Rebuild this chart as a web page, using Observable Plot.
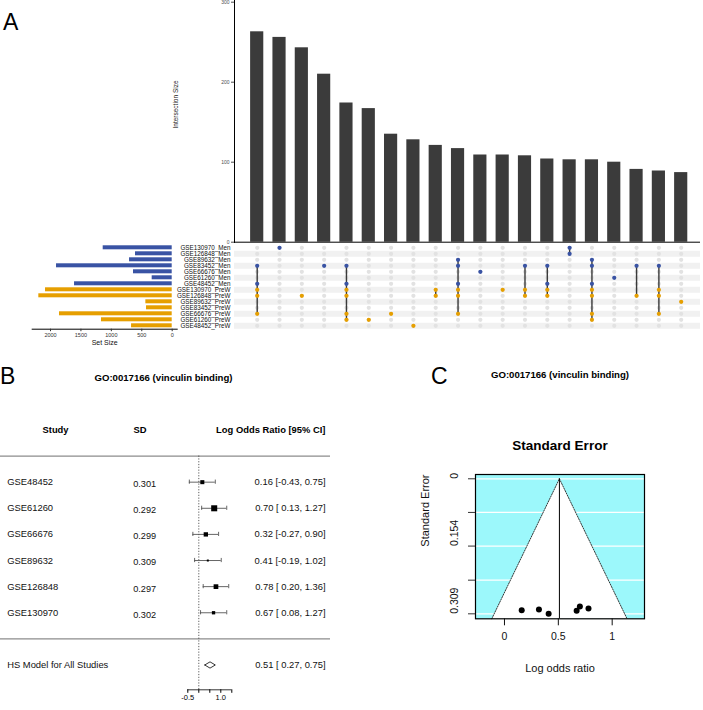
<!DOCTYPE html>
<html>
<head>
<meta charset="utf-8">
<script src="https://cdn.jsdelivr.net/npm/d3@7"></script>
<script src="https://cdn.jsdelivr.net/npm/@observablehq/plot@0.6"></script>
<style>
  body { margin: 0; background: #fff; }
  #root { position: relative; width: 703px; height: 710px; overflow: hidden; background: #fff;
          font-family: "Liberation Sans", Arial, Helvetica, sans-serif; }
  .pane { position: absolute; }
  .pane svg { display: block; }
  .tag { position: absolute; font-size: 23px; line-height: 23px; color: #000;
         font-family: "Liberation Sans", Arial, Helvetica, sans-serif; }
</style>
</head>
<body>
<div id="root">
  <div class="tag" style="left:3px;top:11px">A</div>
  <div class="tag" style="left:0px;top:365px">B</div>
  <div class="tag" style="left:431px;top:365px">C</div>
</div>
<script>
// ---------------- DATA ----------------
// Panel A: UpSet plot
const setNames = ["GSE130970_Men","GSE126848_Men","GSE89632_Men","GSE83452_Men","GSE66676_Men","GSE61260_Men","GSE48452_Men",
                  "GSE130970_PreW","GSE126848_PreW","GSE89632_PreW","GSE83452_PreW","GSE66676_PreW","GSE61260_PreW","GSE48452_PreW"];
const setGroups = ["Men","Men","Men","Men","Men","Men","Men","PreW","PreW","PreW","PreW","PreW","PreW","PreW"];
const setSizes = [1134, 603, 701, 1901, 636, 329, 1605, 2082, 2192, 433, 422, 1852, 1162, 668];
const setSizeTicks = [0, 500, 1000, 1500, 2000];

const intersectionSizes = [263, 256, 243, 210, 174, 167, 135, 128, 121, 117, 109, 109, 108, 104, 103, 103, 100, 91, 89, 87];
// members of each intersection, as indices into setNames
const intersectionMembers = [
  [3,6,7,8,11], [0], [8], [3], [3,6,7,8,11,12], [12], [11], [13], [7,8], [2,3,6,7,8,11],
  [4], [7], [3,7,8], [3,6,7,8], [0,1], [2,3,6,7,8,11,12], [5], [3,8], [3,7,8,11], [9]
];
const intersectionTicks = [0, 100, 200, 300];

// Panel B: forest plot
const goTitle = "GO:0017166 (vinculin binding)";
const studies = ["GSE48452","GSE61260","GSE66676","GSE89632","GSE126848","GSE130970"];
const studySD = [0.301, 0.292, 0.299, 0.309, 0.297, 0.302];
const studyLogOR = [0.16, 0.70, 0.32, 0.41, 0.78, 0.67];
const studyCILow = [-0.43, 0.13, -0.27, -0.19, 0.20, 0.08];
const studyCIHigh = [0.75, 1.27, 0.90, 1.02, 1.36, 1.27];
const studyWeight = [0.67, 1.0, 0.72, 0.33, 0.78, 0.55];
const summaryLabel = "HS Model for All Studies";
const summaryEst = 0.51, summaryLow = 0.27, summaryHigh = 0.75;
const forestTicks = [-0.5, 0, 0.5, 1.0, 1.5];
const forestTickLabels = [-0.5, 1.0];

// Panel C: funnel plot
const funnelSETicks = [0, 0.077, 0.154, 0.232, 0.309];
const funnelSELabels = [0, 0.154, 0.309];
const funnelXTicks = [0, 0.5, 1];

// ---------------- HELPERS ----------------
const FONT = '"Liberation Sans", Arial, Helvetica, sans-serif';
const BLUE = "#3953a4", ORANGE = "#e69f00";
const root = document.getElementById("root");
function place(svg, left, top) {
  const d = document.createElement("div");
  d.className = "pane";
  d.style.left = left + "px";
  d.style.top = top + "px";
  d.appendChild(svg);
  root.appendChild(d);
}
const baseStyle = {fontFamily: FONT, background: "transparent", overflow: "visible"};

// ---------------- PANEL A: intersection bars ----------------
const colIdx = d3.range(intersectionSizes.length);
const colCenters = [256.7, 680.7];
const colStep = (colCenters[1] - colCenters[0]) / (colIdx.length - 1);
const barPad = 0.41;
const half = colStep * (barPad + (1 - barPad) / 2);
const bandRange = [colCenters[0] - half, colCenters[1] + half];

place(Plot.plot({
  width: 703, height: 246,
  marginLeft: 234, marginRight: 3, marginTop: 0, marginBottom: 4,
  style: baseStyle,
  x: {type: "band", domain: colIdx, range: bandRange, padding: barPad, round: false, axis: null},
  y: {domain: [0, 300], range: [241.7, 1.7]},
  marks: [
    Plot.barY(colIdx, {x: i => i, y: i => intersectionSizes[i], fill: "#3b3b3b"}),
    Plot.ruleY([0], {stroke: "#000", strokeWidth: 1}),
    Plot.frame({anchor: "left", stroke: "#000"}),
    Plot.axisY(intersectionTicks, {tickSize: 3, tickPadding: 2, fontSize: 5, color: "#4d4d4d", label: null}),
    Plot.text(["Intersection Size"], {frameAnchor: "left", dx: -59, dy: 7, rotate: -90, fontSize: 6.5, fill: "#222"})
  ]
}), 0, 0);

// ---------------- PANEL A: matrix ----------------
const matrixCells = [];
colIdx.forEach(c => setNames.forEach((s, r) => matrixCells.push({c, s})));
const memberCells = [];
intersectionMembers.forEach((m, c) => m.forEach(r => memberCells.push({c, s: setNames[r], g: setGroups[r]})));
const multi = colIdx.filter(c => intersectionMembers[c].length > 1);

place(Plot.plot({
  width: 703, height: 92,
  marginLeft: 234, marginRight: 3, marginTop: 0, marginBottom: 0,
  style: baseStyle,
  x: {type: "point", domain: colIdx, range: colCenters, padding: 0, round: false, axis: null},
  y: {type: "point", domain: setNames, range: [7.3, 85.3], padding: 0, round: false},
  color: {domain: ["Men", "PreW"], range: [BLUE, ORANGE]},
  marks: [
    Plot.ruleY(setNames.filter((d, i) => i % 2 === 1), {stroke: "#f1f1f1", strokeWidth: 6}),
    Plot.dot(matrixCells, {x: "c", y: "s", r: 2.1, fill: "#e2e2e2"}),
    Plot.ruleX(multi, {x: c => c,
      y1: c => setNames[d3.min(intersectionMembers[c])],
      y2: c => setNames[d3.max(intersectionMembers[c])],
      stroke: "#3a3a3a", strokeWidth: 1.4}),
    Plot.dot(memberCells, {x: "c", y: "s", r: 2.1, fill: "g"}),
    Plot.axisY({tickSize: 0, tickPadding: 4, fontSize: 6.3, color: "#111", label: null})
  ]
}), 0, 240);

// ---------------- PANEL A: set sizes ----------------
place(Plot.plot({
  width: 180, height: 110,
  marginLeft: 31.7, marginRight: 3.3, marginTop: 0, marginBottom: 21.3,
  style: baseStyle,
  x: {domain: [2000, 0], range: [50, 171.7]},
  y: {type: "band", domain: setNames, range: [4.3, 88.3], paddingInner: 0.33, paddingOuter: 0.165, round: false, axis: null},
  color: {domain: ["Men", "PreW"], range: [BLUE, ORANGE]},
  marks: [
    Plot.barX(setNames, {y: d => d, x: (d, i) => setSizes[i], fill: (d, i) => setGroups[i]}),
    Plot.frame({anchor: "bottom", stroke: "#000"}),
    Plot.axisX(setSizeTicks, {tickSize: 2.5, tickPadding: 1.5, fontSize: 5.5, color: "#333", label: null,
      tickFormat: d3.format("d")}),
    Plot.text(["Set Size"], {frameAnchor: "bottom", lineAnchor: "middle", dy: 13.6, fontSize: 7, fill: "#111"})
  ]
}), 0, 240);

// ---------------- PANEL B: forest plot ----------------
const sIdx = d3.range(studies.length);
const rowOf = i => i + 1;
const headerRow = -1, titleRow = -3, sepRows = [0, studies.length + 1], summaryRow = studies.length + 2;
const forestAxisRow = summaryRow + 0.95;
const fmtCI = (e, l, h) => `${e.toFixed(2)} [${l < 0 ? "" : " "}${l.toFixed(2)}, ${h.toFixed(2)}]`;
const capH = 0.08, diaH = 0.12;
const diamond = [
  {x: summaryLow, y: summaryRow}, {x: summaryEst, y: summaryRow - diaH},
  {x: summaryHigh, y: summaryRow}, {x: summaryEst, y: summaryRow + diaH}, {x: summaryLow, y: summaryRow}
];

place(Plot.plot({
  width: 340, height: 350,
  marginLeft: 0, marginRight: 10, marginTop: 17.2, marginBottom: 20.7,
  style: baseStyle,
  x: {domain: [forestTicks[0], forestTicks[forestTicks.length - 1]], range: [187.3, 231.3]},
  y: {domain: [titleRow, forestAxisRow], range: [17.2, 329.3], axis: null},
  r: {type: "linear", domain: [0, 1], range: [0, 3.4]},
  marks: [
    Plot.text([goTitle], {y: titleRow, dx: -2, fontSize: 9.6, fontWeight: "bold", fill: "#000"}),
    Plot.text(["Study"], {y: headerRow, frameAnchor: "left", dx: 42, fontSize: 9.4, fontWeight: "bold"}),
    Plot.text(["SD"], {y: headerRow, frameAnchor: "left", dx: 133, fontSize: 9.4, fontWeight: "bold"}),
    Plot.text(["Log Odds Ratio [95% CI]"], {y: headerRow, frameAnchor: "right", dx: -5, textAnchor: "end", fontSize: 9.4, fontWeight: "bold"}),
    Plot.ruleY(sepRows, {stroke: "#8c8c8c", strokeWidth: 1.3}),
    Plot.ruleX([0], {y1: sepRows[0], y2: forestAxisRow, stroke: "#333", strokeWidth: 0.8, strokeDasharray: "1.2,1.6"}),
    Plot.text(studies, {y: (d, i) => rowOf(i), frameAnchor: "left", dx: 6.7, textAnchor: "start", fontSize: 9.4, fill: "#111"}),
    Plot.text(studySD, {y: (d, i) => rowOf(i), text: d => d.toFixed(3), frameAnchor: "left", dx: 132.7, dy: 2, fontSize: 9.2, fill: "#111"}),
    Plot.text(sIdx, {y: i => rowOf(i), text: i => fmtCI(studyLogOR[i], studyCILow[i], studyCIHigh[i]),
      frameAnchor: "right", dx: -5, textAnchor: "end", fontSize: 9.4, fill: "#111"}),
    Plot.ruleY(sIdx, {y: i => rowOf(i), x1: i => studyCILow[i], x2: i => studyCIHigh[i], stroke: "#555", strokeWidth: 0.9}),
    Plot.ruleX(sIdx, {x: i => studyCILow[i], y1: i => rowOf(i) - capH, y2: i => rowOf(i) + capH, stroke: "#555", strokeWidth: 0.9}),
    Plot.ruleX(sIdx, {x: i => studyCIHigh[i], y1: i => rowOf(i) - capH, y2: i => rowOf(i) + capH, stroke: "#555", strokeWidth: 0.9}),
    Plot.dot(sIdx, {x: i => studyLogOR[i], y: i => rowOf(i), r: i => studyWeight[i], symbol: "square", fill: "#000", stroke: null}),
    Plot.text([summaryLabel], {y: summaryRow, frameAnchor: "left", dx: 6.7, textAnchor: "start", fontSize: 9.4, fill: "#111"}),
    Plot.text([fmtCI(summaryEst, summaryLow, summaryHigh)], {y: summaryRow, frameAnchor: "right", dx: -5, textAnchor: "end", fontSize: 9.4, fill: "#111"}),
    Plot.line(diamond, {x: "x", y: "y", fill: "#fff", stroke: "#000", strokeWidth: 0.8}),
    Plot.ruleY([forestAxisRow], {x1: forestTicks[0], x2: forestTicks[forestTicks.length - 1], stroke: "#000", strokeWidth: 0.8}),
    Plot.axisX(forestTicks, {tickSize: 3.5, tickPadding: 1.5, fontSize: 7.5, color: "#000", label: null,
      tickFormat: d => forestTickLabels.includes(d) ? d.toFixed(1) : ""})
  ]
}), 0, 360);

// ---------------- PANEL C: funnel plot ----------------
const seDomain = [-0.0098, 0.3204];
const seBottom = seDomain[1];
const triangle = [
  {x: summaryEst - 1.96 * seBottom, y: seBottom},
  {x: summaryEst, y: 0},
  {x: summaryEst + 1.96 * seBottom, y: seBottom}
];
const leftEdge = triangle.slice(0, 2), rightEdge = triangle.slice(1);

place(Plot.plot({
  width: 313, height: 340,
  marginLeft: 85, marginRight: 59, marginTop: 114, marginBottom: 81.7,
  style: baseStyle,
  x: {domain: [-0.269, 1.30]},
  y: {domain: seDomain, reverse: true},
  marks: [
    Plot.frame({fill: "#9cf8fb", stroke: null}),
    Plot.ruleY(funnelSETicks, {stroke: "#fff", strokeWidth: 1.2}),
    Plot.line(triangle, {x: "x", y: "y", fill: "#fff", stroke: null}),
    Plot.line(leftEdge, {x: "x", y: "y", stroke: "#222", strokeWidth: 0.9, strokeDasharray: "1.3,1.3"}),
    Plot.line(rightEdge, {x: "x", y: "y", stroke: "#222", strokeWidth: 0.9, strokeDasharray: "1.3,1.3"}),
    Plot.ruleX([summaryEst], {y1: 0, y2: seBottom, stroke: "#000", strokeWidth: 1}),
    Plot.dot(sIdx, {x: i => studyLogOR[i], y: i => studySD[i], r: 3, fill: "#000"}),
    Plot.frame({stroke: "#000", strokeWidth: 1.2}),
    Plot.axisY(funnelSETicks, {tickSize: 7, tickFormat: () => "", color: "#333", label: null}),
    Plot.text(funnelSELabels, {y: d => d, text: d => String(d), frameAnchor: "left", dx: -21, rotate: -90, fontSize: 10.5, fill: "#111"}),
    Plot.axisX(funnelXTicks, {tickSize: 7, tickPadding: 7, fontSize: 10.5, color: "#111", label: null,
      tickFormat: d => String(d)}),
    Plot.text(["Log odds ratio"], {frameAnchor: "bottom", lineAnchor: "middle", dy: 49.7, fontSize: 11, fill: "#111"}),
    Plot.text(["Standard Error"], {frameAnchor: "left", dx: -50, rotate: -90, fontSize: 11, fill: "#111"}),
    Plot.text(["Standard Error"], {frameAnchor: "top", lineAnchor: "middle", dy: -29, fontSize: 13.5, fontWeight: "bold", fill: "#000"}),
    Plot.text([goTitle], {frameAnchor: "top", lineAnchor: "middle", dy: -100, fontSize: 9.6, fontWeight: "bold", fill: "#000"})
  ]
}), 390, 360);
</script>
</body>
</html>
